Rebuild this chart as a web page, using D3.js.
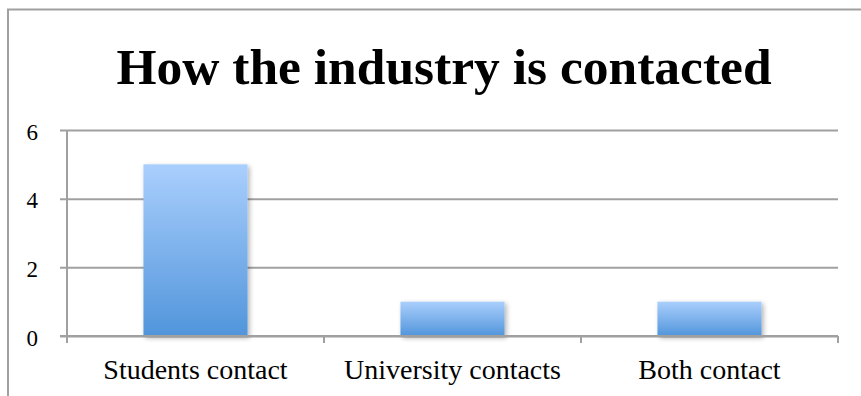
<!DOCTYPE html>
<html>
<head>
<meta charset="utf-8">
<script src="https://cdn.jsdelivr.net/npm/d3@7"></script>
<style>
  html, body { margin: 0; padding: 0; background: #fff; }
  svg { display: block; }
</style>
</head>
<body>
<svg id="chart" width="861" height="396"></svg>
<script>
// Chart data
const title = "How the industry is contacted";
const categories = ["Students contact", "University contacts", "Both contact"];
const values = [5, 1, 1];
const yTicks = [0, 2, 4, 6];

const W = 861, H = 396;
const margin = { left: 67, right: 23, top: 130, bottom: 60 };
const serif = "'Liberation Serif', 'DejaVu Serif', serif";

const svg = d3.select("#chart");

// Outer chart frame (runs off the right and bottom edges)
svg.append("path")
  .attr("d", `M8,${H + 5} V9.5 H${W + 5}`)
  .attr("fill", "none")
  .attr("stroke", "#a0a0a0")
  .attr("stroke-width", 2);

// Title
svg.append("text")
  .attr("x", 444)
  .attr("y", 84)
  .attr("text-anchor", "middle")
  .attr("font-family", serif)
  .attr("font-weight", "bold")
  .attr("font-size", 51.5)
  .attr("fill", "#000")
  .text(title);

const x = d3.scaleBand()
  .domain(categories)
  .range([margin.left, W - margin.right])
  .paddingInner(0.595)
  .paddingOuter(0.2975);

const y = d3.scaleLinear()
  .domain([0, 6])
  .range([H - margin.bottom, margin.top]);

// Gradient fill and soft shadow for bars
const defs = svg.append("defs");
const grad = defs.append("linearGradient")
  .attr("id", "barGrad").attr("x1", 0).attr("y1", 0).attr("x2", 0).attr("y2", 1);
grad.append("stop").attr("offset", "0%").attr("stop-color", "#aacffd");
grad.append("stop").attr("offset", "100%").attr("stop-color", "#5195db");

const shadow = defs.append("filter").attr("id", "barShadow")
  .attr("x", "-20%").attr("y", "-20%").attr("width", "140%").attr("height", "140%");
shadow.append("feGaussianBlur").attr("in", "SourceAlpha").attr("stdDeviation", 2.5).attr("result", "b");
shadow.append("feOffset").attr("in", "b").attr("dx", 1.5).attr("dy", 1.5).attr("result", "o");
shadow.append("feComponentTransfer").attr("in", "o").attr("result", "s")
  .append("feFuncA").attr("type", "linear").attr("slope", 0.3);
const merge = shadow.append("feMerge");
merge.append("feMergeNode").attr("in", "s");
merge.append("feMergeNode").attr("in", "SourceGraphic");

// Y axis with gridlines
const yAxis = d3.axisLeft(y)
  .tickValues(yTicks)
  .tickSize(-(W - margin.right - margin.left))
  .tickSizeOuter(0)
  .tickPadding(0)
  .tickFormat(d3.format("d"));

const yg = svg.append("g")
  .attr("transform", `translate(${margin.left},0)`)
  .call(yAxis);
yg.select(".domain").remove();
yg.selectAll(".tick line")
  .attr("x1", -7)
  .attr("stroke", "#a0a0a0")
  .attr("stroke-width", 2);
yg.selectAll(".tick text")
  .attr("x", -29)
  .attr("dy", "0.4em")
  .attr("font-family", serif)
  .attr("font-size", 23)
  .attr("fill", "#000");

// Vertical axis line
svg.append("line")
  .attr("x1", margin.left).attr("x2", margin.left)
  .attr("y1", y(6)).attr("y2", y(0) + 7)
  .attr("stroke", "#a0a0a0").attr("stroke-width", 2);

// Bars
svg.append("g").selectAll("rect")
  .data(values)
  .join("rect")
  .attr("x", (d, i) => x(categories[i]))
  .attr("y", d => y(d))
  .attr("width", x.bandwidth())
  .attr("height", d => y(0) - y(d))
  .attr("fill", "url(#barGrad)")
  .attr("filter", "url(#barShadow)");

// X axis: category separators and labels
const step = x.step();
const xg = svg.append("g").attr("transform", `translate(0,${y(0)})`);
xg.append("line")
  .attr("x1", margin.left - 7).attr("x2", W - margin.right)
  .attr("stroke", "#a0a0a0").attr("stroke-width", 2);
const bounds = d3.range(categories.length + 1).map(i => margin.left + i * step);
xg.selectAll("line.sep")
  .data(bounds)
  .join("line")
  .attr("class", "sep")
  .attr("x1", d => d).attr("x2", d => d)
  .attr("y1", 0).attr("y2", 7)
  .attr("stroke", "#a0a0a0").attr("stroke-width", 2);
xg.selectAll("text")
  .data(categories)
  .join("text")
  .attr("x", d => x(d) + x.bandwidth() / 2)
  .attr("y", 43)
  .attr("text-anchor", "middle")
  .attr("font-family", serif)
  .attr("font-size", 28)
  .attr("fill", "#000")
  .text(d => d);
</script>
</body>
</html>
